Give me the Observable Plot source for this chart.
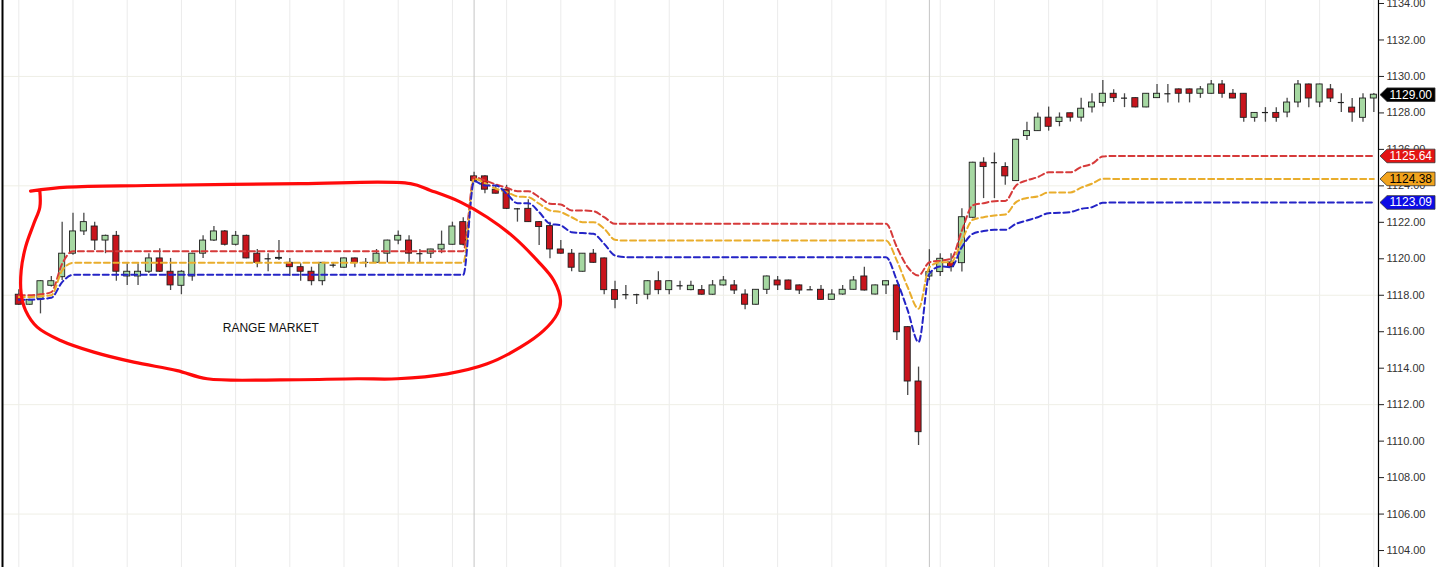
<!DOCTYPE html>
<html>
<head>
<meta charset="utf-8">
<script src="https://cdn.jsdelivr.net/npm/d3@7"></script>
<script src="https://cdn.jsdelivr.net/npm/@observablehq/plot@0.6"></script>
<style>
  html, body { margin: 0; padding: 0; background: #fff; }
  #chart svg { display: block; }
</style>
</head>
<body>
<div id="chart"></div>
<script>
// ---- Candle data (index order, left to right) ----
const opens = [
  1118.03,1117.48,1117.79,1118.52,1118.99,1120.28,1121.50,1121.77,1121.00,1121.26,
  1119.03,1119.03,1119.29,1120.02,1119.29,1118.52,1119.03,1120.28,1121.00,1121.50,
  1120.77,1121.26,1120.28,1120.00,1120.00,1119.78,1119.54,1119.29,1118.77,1119.65,
  1119.51,1120.02,1119.80,1119.78,1120.28,1121.00,1121.00,1120.28,1120.28,1120.51,
  1120.77,1122.01,1124.52,1124.52,1123.79,1123.79,1122.74,1122.74,1122.01,1121.79,
  1120.51,1120.28,1119.29,1120.28,1120.02,1118.28,1118.03,1118.03,1118.03,1118.77,
  1118.28,1118.52,1118.28,1118.28,1118.03,1118.54,1118.54,1118.04,1117.48,1118.30,
  1118.81,1118.81,1118.54,1118.30,1118.30,1117.75,1118.04,1118.30,1119.03,1118.04,
  1118.54,1118.54,1116.25,1113.27,1119.03,1119.27,1119.80,1119.76,1122.25,1125.27,
  1125.27,1125.03,1124.26,1126.73,1127.00,1127.74,1127.50,1127.98,1127.74,1128.30,
  1128.55,1129.05,1128.81,1128.81,1128.30,1128.81,1129.05,1129.29,1129.29,1129.05,
  1129.05,1129.56,1129.05,1129.05,1127.73,1128.02,1128.00,1128.02,1128.57,1129.56,
  1128.57,1129.29,1128.57,1128.29,1127.73,1128.79
];
const highs = [
  1118.30,1117.78,1118.80,1119.03,1122.01,1122.50,1122.50,1122.01,1121.30,1121.50,
  1119.73,1119.73,1120.28,1120.55,1120.02,1119.35,1120.30,1121.26,1121.77,1121.55,
  1121.50,1121.30,1120.51,1120.28,1121.00,1120.02,1119.73,1119.54,1119.80,1119.78,
  1120.05,1120.05,1120.02,1120.51,1121.02,1121.52,1121.26,1120.51,1120.53,1121.52,
  1122.01,1122.25,1124.75,1124.55,1124.03,1124.03,1122.76,1123.24,1122.05,1122.01,
  1121.00,1120.51,1120.28,1120.51,1120.05,1118.77,1118.54,1118.05,1118.80,1119.29,
  1118.80,1118.77,1118.77,1118.54,1118.81,1119.03,1118.81,1118.30,1118.32,1119.05,
  1119.03,1118.83,1118.56,1118.48,1118.54,1118.30,1118.54,1119.03,1119.54,1118.56,
  1118.79,1118.56,1116.27,1114.06,1120.50,1120.28,1120.28,1122.74,1125.30,1125.54,
  1125.80,1125.27,1126.55,1127.49,1128.00,1128.32,1128.00,1128.00,1128.81,1129.05,
  1129.78,1129.27,1129.05,1128.83,1129.07,1129.56,1129.56,1129.31,1129.31,1129.45,
  1129.78,1129.78,1129.29,1129.07,1128.02,1128.29,1128.29,1128.80,1129.78,1129.58,
  1129.58,1129.56,1129.05,1128.79,1129.05,1129.07
];
const lows = [
  1117.45,1117.46,1116.98,1118.45,1118.81,1120.20,1121.28,1120.46,1120.28,1118.77,
  1118.54,1118.54,1119.20,1119.25,1118.26,1118.03,1118.77,1120.02,1120.95,1120.70,
  1120.70,1120.00,1119.51,1119.29,1119.90,1119.03,1118.77,1118.52,1118.52,1119.50,
  1119.48,1119.51,1119.51,1119.75,1119.78,1120.77,1119.78,1119.78,1120.02,1120.28,
  1120.75,1120.70,1124.20,1123.57,1123.55,1122.70,1122.01,1122.00,1120.73,1120.00,
  1120.25,1119.29,1119.27,1119.75,1118.03,1117.26,1117.75,1117.50,1117.75,1118.03,
  1118.03,1118.28,1118.25,1118.00,1118.00,1118.50,1118.04,1117.20,1117.45,1118.04,
  1118.26,1118.28,1118.04,1118.28,1117.73,1117.73,1118.00,1118.28,1118.24,1118.02,
  1118.04,1115.52,1112.50,1109.76,1118.80,1119.03,1119.27,1119.27,1122.20,1123.30,
  1123.30,1124.03,1124.24,1126.49,1126.98,1127.00,1127.24,1127.50,1127.50,1128.00,
  1128.33,1128.57,1128.29,1128.28,1128.28,1128.79,1128.55,1128.55,1128.55,1128.80,
  1129.03,1128.80,1128.77,1127.49,1127.49,1127.49,1127.49,1127.73,1128.29,1128.29,
  1128.29,1128.57,1128.02,1127.49,1127.49,1128.02
];
const closes = [
  1117.48,1117.75,1118.77,1118.77,1120.28,1121.50,1122.01,1121.00,1121.26,1119.29,
  1119.29,1119.29,1120.02,1119.29,1118.54,1119.29,1120.28,1121.00,1121.50,1120.77,
  1121.26,1120.02,1119.78,1120.00,1120.05,1119.54,1119.29,1118.77,1119.78,1119.65,
  1120.02,1119.78,1119.80,1120.28,1121.00,1121.26,1120.28,1120.28,1120.51,1120.77,
  1121.77,1120.77,1124.26,1123.79,1123.57,1122.74,1122.74,1122.01,1121.74,1120.51,
  1120.28,1119.51,1120.28,1119.78,1118.28,1117.75,1118.03,1118.03,1118.77,1118.28,
  1118.77,1118.52,1118.52,1118.03,1118.54,1118.81,1118.26,1117.48,1118.30,1119.03,
  1118.54,1118.30,1118.26,1118.30,1117.75,1118.04,1118.30,1118.81,1118.26,1118.54,
  1118.77,1115.97,1113.27,1110.49,1119.27,1120.00,1119.54,1122.28,1125.27,1125.03,
  1125.27,1124.52,1126.53,1127.00,1127.74,1127.24,1127.74,1127.74,1128.23,1128.57,
  1129.05,1128.81,1128.81,1128.30,1129.05,1129.05,1129.05,1129.05,1129.05,1129.29,
  1129.56,1129.05,1128.79,1127.73,1128.00,1128.02,1127.73,1128.57,1129.56,1128.79,
  1129.56,1128.79,1128.57,1128.02,1128.79,1129.00
];

// ---- Band lines (red upper, orange middle, blue lower) ----
const upperBand = [
  1118.00,1118.00,1118.05,1118.17,1119.73,1120.42,1120.42,1120.42,1120.42,1120.42,
  1120.42,1120.42,1120.42,1120.42,1120.42,1120.42,1120.42,1120.42,1120.42,1120.42,
  1120.42,1120.42,1120.42,1120.42,1120.42,1120.42,1120.42,1120.42,1120.42,1120.42,
  1120.42,1120.42,1120.42,1120.42,1120.42,1120.42,1120.42,1120.42,1120.42,1120.42,
  1120.42,1120.42,1124.48,1124.30,1124.08,1123.90,1123.71,1123.71,1123.38,1123.02,
  1122.98,1122.65,1122.65,1122.61,1122.28,1121.92,1121.92,1121.92,1121.92,1121.92,
  1121.92,1121.92,1121.92,1121.92,1121.92,1121.92,1121.92,1121.92,1121.92,1121.92,
  1121.92,1121.92,1121.92,1121.92,1121.92,1121.92,1121.92,1121.92,1121.92,1121.92,
  1121.92,1120.64,1119.54,1119.08,1119.81,1119.90,1120.00,1121.55,1122.93,1123.05,
  1123.16,1123.17,1124.02,1124.30,1124.48,1124.74,1124.74,1124.74,1125.03,1125.21,
  1125.61,1125.64,1125.64,1125.64,1125.64,1125.64,1125.64,1125.64,1125.64,1125.64,
  1125.64,1125.64,1125.64,1125.64,1125.64,1125.64,1125.64,1125.64,1125.64,1125.64,
  1125.64,1125.64,1125.64,1125.64,1125.64,1125.64
];
const middleBand = [
  1117.90,1117.90,1117.95,1118.00,1119.36,1119.78,1119.78,1119.78,1119.78,1119.78,
  1119.78,1119.78,1119.78,1119.78,1119.78,1119.78,1119.78,1119.78,1119.78,1119.78,
  1119.78,1119.78,1119.78,1119.78,1119.78,1119.78,1119.78,1119.78,1119.78,1119.78,
  1119.78,1119.78,1119.78,1119.78,1119.78,1119.78,1119.78,1119.78,1119.78,1119.78,
  1119.78,1119.78,1124.39,1124.15,1123.84,1123.66,1123.42,1123.38,1123.02,1122.65,
  1122.56,1122.28,1122.01,1122.01,1121.65,1121.04,1121.00,1121.00,1121.00,1121.00,
  1121.00,1121.00,1121.00,1121.00,1121.00,1121.00,1121.00,1121.00,1121.00,1121.00,
  1121.00,1121.00,1121.00,1121.00,1121.00,1121.00,1121.00,1121.00,1121.00,1121.00,
  1121.00,1119.90,1118.44,1117.26,1119.54,1119.81,1119.81,1121.00,1122.14,1122.28,
  1122.38,1122.43,1123.11,1123.33,1123.42,1123.64,1123.64,1123.64,1123.90,1124.12,
  1124.39,1124.38,1124.38,1124.38,1124.38,1124.38,1124.38,1124.38,1124.38,1124.38,
  1124.38,1124.38,1124.38,1124.38,1124.38,1124.38,1124.38,1124.38,1124.38,1124.38,
  1124.38,1124.38,1124.38,1124.38,1124.38,1124.38
];
const lowerBand = [
  1117.75,1117.75,1117.80,1117.86,1118.72,1119.12,1119.12,1119.12,1119.12,1119.12,
  1119.12,1119.12,1119.12,1119.12,1119.12,1119.12,1119.12,1119.12,1119.12,1119.12,
  1119.12,1119.12,1119.12,1119.12,1119.12,1119.12,1119.12,1119.12,1119.12,1119.12,
  1119.12,1119.12,1119.12,1119.12,1119.12,1119.12,1119.12,1119.12,1119.12,1119.12,
  1119.12,1119.12,1124.26,1124.02,1124.02,1123.57,1123.05,1123.05,1122.56,1121.92,
  1121.83,1121.46,1121.41,1121.37,1120.82,1120.18,1120.09,1120.09,1120.09,1120.09,
  1120.09,1120.09,1120.09,1120.09,1120.09,1120.09,1120.09,1120.09,1120.09,1120.09,
  1120.09,1120.09,1120.09,1120.09,1120.09,1120.09,1120.09,1120.09,1120.09,1120.09,
  1120.09,1118.81,1117.17,1115.43,1119.18,1119.58,1119.54,1120.64,1121.37,1121.52,
  1121.59,1121.59,1121.92,1122.10,1122.28,1122.50,1122.52,1122.56,1122.74,1122.83,
  1123.07,1123.09,1123.09,1123.09,1123.09,1123.09,1123.09,1123.09,1123.09,1123.09,
  1123.09,1123.09,1123.09,1123.09,1123.09,1123.09,1123.09,1123.09,1123.09,1123.09,
  1123.09,1123.09,1123.09,1123.09,1123.09,1123.09
];

// ---- Axis / grid / annotations ----
const yTicks = [1104,1106,1108,1110,1112,1114,1116,1118,1120,1122,1124,1126,1128,1130,1132,1134];
const yGrid = [1106,1112,1118,1124,1130];
const xGrid = [0,5,10,15,20,25,30,35,40,45,50,55,60,65,70,75,80,85,90,95,100,105,110,115,120,125];
const sessionBreaks = [42, 84];

const tagValues = [1129.00, 1125.64, 1124.38, 1123.09];
const tagFills  = ["#000000", "#e31414", "#f2a31d", "#0c0ce6"];
const tagText   = ["#ffffff", "#ffffff", "#000000", "#ffffff"];

const ellipseX = [1.08,4.46,11.85,25.99,36.13,37.98,40.75,43.21,45.66,47.82,49.35,49.97,49.67,48.43,46.28,43.21,39.52,34.91,31.22,24.14,17.38,14.61,10.61,6.92,3.85,1.70,0.62,0.22,0.22,0.62,1.38,1.94,1.94];
const ellipseY = [1123.71,1123.93,1124.02,1124.12,1124.12,1123.75,1123.11,1122.28,1121.19,1119.91,1118.81,1117.71,1116.98,1116.07,1115.15,1114.24,1113.69,1113.42,1113.42,1113.36,1113.42,1113.87,1114.33,1114.88,1115.52,1116.25,1117.17,1118.08,1119.36,1120.64,1121.92,1122.83,1123.71];

const noteText = ["RANGE MARKET"];
const noteX = [23.24];
const noteY = [1116.18];

// ---- Build tables ----
const candles = opens.map((o, i) => ({i, o, h: highs[i], l: lows[i], c: closes[i]}));
const bodies = candles.filter(d => Math.abs(d.o - d.c) >= 0.03);
const dojis = candles.filter(d => Math.abs(d.o - d.c) < 0.03);
const bands = upperBand.map((u, i) => ({i, u, m: middleBand[i], lo: lowerBand[i]}));
const ellipse = ellipseX.map((x, k) => ({x, y: ellipseY[k]}));
const notes = noteText.map((t, k) => ({t, x: noteX[k], y: noteY[k]}));
const tags = tagValues.map((v, k) => ({v, fill: tagFills[k], tc: tagText[k]}));

const flagSymbol = {
  draw(ctx) {
    ctx.moveTo(0, 0);
    ctx.lineTo(7, -6.8);
    ctx.lineTo(55, -6.8);
    ctx.lineTo(55, 6.8);
    ctx.lineTo(7, 6.8);
    ctx.closePath();
  }
};

const greenFill = "#a6d8a2";
const redFill = "#c8141c";
const halfW = 0.28;

const chart = Plot.plot({
  width: 1444,
  height: 567,
  marginLeft: 2,
  marginRight: 66,
  marginTop: 0,
  marginBottom: 0,
  style: {fontFamily: "'Liberation Sans', Arial, sans-serif", background: "#fff"},
  x: {type: "linear", domain: [-1.504, 125.43], axis: null},
  y: {domain: [1103.07, 1134.165], axis: null},
  marks: [
    Plot.ruleX(xGrid, {stroke: "#ebebeb", strokeWidth: 1}),
    Plot.ruleY(yGrid, {stroke: "#efefe6", strokeWidth: 1}),
    Plot.ruleX(sessionBreaks, {stroke: "#c4c4c4", strokeWidth: 1}),
    Plot.frame({anchor: "left", stroke: "#000", strokeWidth: 2}),
    // wicks
    Plot.ruleX(candles, {x: "i", y1: "l", y2: "h", stroke: "#4a4a4a", strokeWidth: 1.3}),
    // bodies
    Plot.rect(bodies, {
      x1: d => d.i - halfW, x2: d => d.i + halfW,
      y1: "o", y2: "c",
      fill: d => d.c > d.o ? greenFill : redFill,
      stroke: "#1e1e1e", strokeWidth: 0.9
    }),
    Plot.ruleY(dojis, {y: "o", x1: d => d.i - halfW, x2: d => d.i + halfW, stroke: "#1e1e1e", strokeWidth: 1.2}),
    // bands
    Plot.line(bands, {x: "i", y: "u", stroke: "#d63a3a", strokeWidth: 2, strokeDasharray: "6,3.5", curve: "monotone-x"}),
    Plot.line(bands, {x: "i", y: "m", stroke: "#e9ad2c", strokeWidth: 2, strokeDasharray: "6,3.5", curve: "monotone-x"}),
    Plot.line(bands, {x: "i", y: "lo", stroke: "#2424c6", strokeWidth: 2, strokeDasharray: "6,3.5", curve: "monotone-x"}),
    // hand drawn ellipse
    Plot.line(ellipse, {x: "x", y: "y", stroke: "#ff0a0a", strokeWidth: 3.2, curve: "catmull-rom", strokeLinejoin: "round", strokeLinecap: "round"}),
    Plot.text(notes, {x: "x", y: "y", text: "t", fontSize: 12, fill: "#111", textAnchor: "middle"}),
    // right axis
    Plot.frame({anchor: "right", stroke: "#000", strokeWidth: 1.2}),
    Plot.axisY(yTicks, {anchor: "right", tickSize: 5, tickPadding: 3, tickFormat: d => d.toFixed(2), fontSize: 11, fill: "#333", stroke: "#222"}),
    // price tags
    Plot.dot(tags, {y: "v", frameAnchor: "right", dx: 1.5, symbol: flagSymbol, fill: d => d.fill, stroke: "#333", strokeWidth: 0.8, r: 5}),
    Plot.text(tags, {y: "v", frameAnchor: "right", dx: 11, text: d => d.v.toFixed(2), textAnchor: "start", fill: d => d.tc, fontSize: 12})
  ]
});

document.getElementById("chart").appendChild(chart);
</script>
</body>
</html>
